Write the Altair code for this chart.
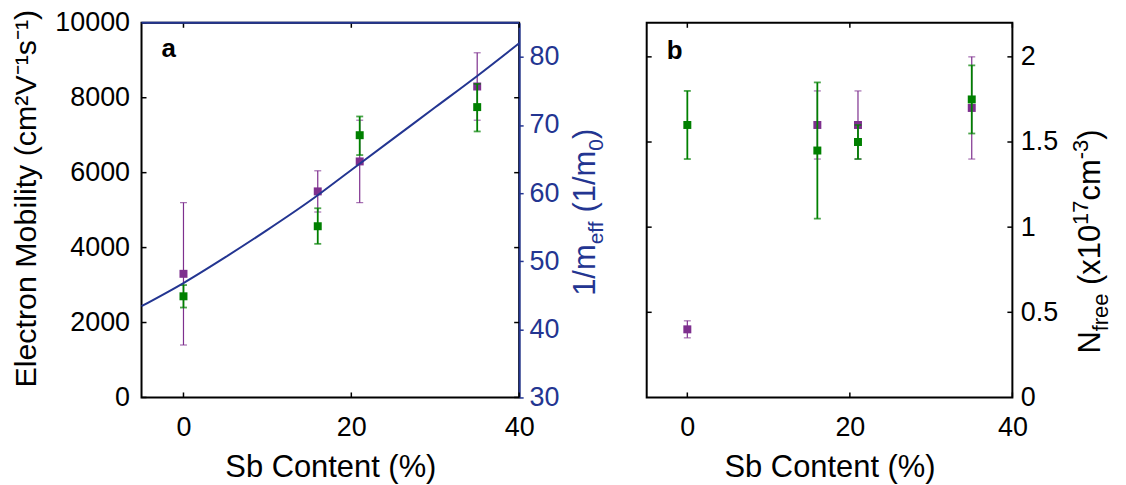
import altair as alt
import pandas as pd

FONT = "Liberation Sans"
BLUE = "#233591"
GREEN = "#008000"
PURPLE = "#7E2F8E"

# ---------------- data ----------------
sb = [0, 16, 21, 35]

mob_purple = [3300, 5500, 6300, 8300]
mob_purple_lo = [1400, 4950, 5200, 7400]
mob_purple_hi = [5200, 6050, 7400, 9200]
mob_green = [2700, 4570, 7000, 7750]
mob_green_lo = [2400, 4100, 6470, 7100]
mob_green_hi = [3000, 5050, 7500, 8370]

curve_sb = [-5, 0, 5, 10, 15, 20, 25, 30, 35, 40]
curve_inv_meff = [43.4, 46.8, 50.6, 54.6, 58.8, 63.4, 68.0, 72.6, 77.2, 82.0]

n_green = [1.6, 1.45, 1.5, 1.75]
n_green_lo = [1.4, 1.05, 1.4, 1.55]
n_green_hi = [1.8, 1.85, 1.6, 1.95]
n_purple = [0.4, 1.6, 1.6, 1.7]
n_purple_lo = [0.35, 1.4, 1.4, 1.4]
n_purple_hi = [0.45, 1.8, 1.8, 2.0]

x_ticks = [0, 20, 40]
mob_ticks = [0, 2000, 4000, 6000, 8000, 10000]
inv_ticks = [30, 40, 50, 60, 70, 80]
n_ticks = [0, 0.5, 1, 1.5, 2]

# ---------------- layout ----------------
W_A, W_B, H = 379, 367, 376
TICK_FS, TITLE_FS, SUB_FS = 27, 31, 21
TL = 5  # inward tick length

xscale = alt.Scale(domain=[-5, 40], nice=False, zero=False)
mob_scale = alt.Scale(domain=[0, 10000], nice=False, zero=False)
inv_scale = alt.Scale(domain=[30, 85], nice=False, zero=False)
n_scale = alt.Scale(domain=[0, 2.2], nice=False, zero=False)

AW = {'1': 556, '/': 278, 'm': 833, 'e': 556, 'f': 278, ' ': 278, '(': 333,
      ')': 333, '0': 556, 'N': 722, 'r': 333, 'x': 500, '7': 556, 'c': 500,
      '-': 333, '3': 556}


def tw(s, size):
    return sum(AW.get(c, 556) for c in s) / 1000 * size


def text_at(s, x, y, size, color="black", angle=0, align="left", weight="normal"):
    return alt.Chart(pd.DataFrame({"t": [s]})).mark_text(
        font=FONT, fontSize=size, color=color, angle=angle, align=align,
        baseline="alphabetic", fontWeight=weight
    ).encode(text="t:N", x=alt.value(x), y=alt.value(y))


def rotated_title(segments, bx, y0, color):
    layers = []
    y = y0
    for s, size, shift in segments:
        if s.strip():
            layers.append(text_at(s, bx + shift, y, size, color=color, angle=270))
        y -= tw(s, size)
    return layers


def make_x_axis(width):
    return alt.Axis(values=x_ticks, ticks=False, tickSize=0, domain=False, grid=False,
                    labelFlush=False, labelOverlap=False, labelFontSize=TICK_FS,
                    labelPadding=17, labelColor="black", format="d",
                    title="Sb Content (%)", titleFontSize=TITLE_FS, titleFontWeight="normal",
                    titleColor="black", titleX=width / 2, titleY=79,
                    titleAlign="center", titleBaseline="alphabetic")


def series(df, yf, lo, hi, color, yscale, sw, xaxis, yaxis):
    base = alt.Chart(df)
    X = alt.X("sb:Q", scale=xscale, axis=xaxis)
    bar = base.mark_rule(color=color, strokeWidth=sw).encode(
        x=X, y=alt.Y(f"{lo}:Q", scale=yscale, axis=yaxis), y2=f"{hi}:Q")
    c1 = base.mark_tick(color=color, orient="horizontal", size=7, thickness=sw).encode(
        x=X, y=alt.Y(f"{lo}:Q", scale=yscale, axis=yaxis))
    c2 = base.mark_tick(color=color, orient="horizontal", size=7, thickness=sw).encode(
        x=X, y=alt.Y(f"{hi}:Q", scale=yscale, axis=yaxis))
    pt = base.mark_square(color=color, size=64, opacity=1).encode(
        x=X, y=alt.Y(f"{yf}:Q", scale=yscale, axis=yaxis))
    return [bar, c1, c2, pt]


def inward_ticks(yvals, yscale, width, xaxis, yaxis):
    dx = pd.DataFrame({"v": x_ticks})
    dy = pd.DataFrame({"v": yvals})
    X = alt.X("v:Q", scale=xscale, axis=xaxis)
    Y = alt.Y("v:Q", scale=yscale, axis=yaxis)
    return [
        alt.Chart(dx).mark_rule(color="black", strokeWidth=1.5).encode(x=X, y=alt.value(H), y2=alt.value(H - TL)),
        alt.Chart(dx).mark_rule(color="black", strokeWidth=1.5).encode(x=X, y=alt.value(0), y2=alt.value(TL)),
        alt.Chart(dy).mark_rule(color="black", strokeWidth=1.5).encode(y=Y, x=alt.value(0), x2=alt.value(TL)),
        alt.Chart(dy).mark_rule(color="black", strokeWidth=1.5).encode(y=Y, x=alt.value(width - TL), x2=alt.value(width)),
    ]


one = pd.DataFrame({"d": [0]})

# ---------------- panel a ----------------
df_a = pd.DataFrame({"sb": sb, "mp": mob_purple, "mpl": mob_purple_lo, "mph": mob_purple_hi,
                     "mg": mob_green, "mgl": mob_green_lo, "mgh": mob_green_hi})

mob_axis = alt.Axis(values=mob_ticks, ticks=False, tickSize=0, domain=False, grid=False,
                    labelFlush=False, labelOverlap=False, labelFontSize=TICK_FS,
                    labelPadding=12, labelColor="black", format="d",
                    title="Electron Mobility (cm²V⁻¹s⁻¹)", titleFontSize=30.5, titleLimit=1000,
                    titleFontWeight="normal", titleColor="black", titleAngle=270,
                    titleX=-115, titleY=176, titleAlign="center", titleBaseline="middle")
xa = make_x_axis(W_A)

left_a = alt.layer(
    *inward_ticks(mob_ticks, mob_scale, W_A, xa, mob_axis),
    *series(df_a, "mp", "mpl", "mph", PURPLE, mob_scale, 1.2, xa, mob_axis),
    *series(df_a, "mg", "mgl", "mgh", GREEN, mob_scale, 1.8, xa, mob_axis),
)

df_curve = pd.DataFrame({"sb": curve_sb, "inv": curve_inv_meff})
curve = alt.Chart(df_curve).mark_line(color=BLUE, strokeWidth=2, interpolate="monotone").encode(
    x=alt.X("sb:Q", scale=xscale, axis=xa),
    y=alt.Y("inv:Q", scale=inv_scale,
            axis=alt.Axis(orient="right", values=inv_ticks, domainColor=BLUE, domainWidth=2,
                          tickColor=BLUE, tickSize=4, tickWidth=1.5, labelColor=BLUE,
                          labelFontSize=TICK_FS, labelPadding=6, labelFlush=False,
                          labelOverlap=False, grid=False, title=None)))

top_blue = alt.Chart(one).mark_rule(color=BLUE, strokeWidth=2).encode(
    x=alt.value(0), x2=alt.value(W_A), y=alt.value(0))

title_a = rotated_title(
    [("1/m", TITLE_FS, 0), ("eff", SUB_FS, 8), (" ", TITLE_FS, 0), ("(1/m", TITLE_FS, 0),
     ("0", SUB_FS, 8), (")", TITLE_FS, 0)],
    bx=W_A + 76, y0=274, color=BLUE)

panel_a = alt.layer(
    left_a, curve, top_blue,
    text_at("a", 20, 34, 26, weight="bold"),
    *title_a,
).resolve_scale(y="independent").properties(width=W_A, height=H)

# ---------------- panel b ----------------
df_b = pd.DataFrame({"sb": sb, "np": n_purple, "npl": n_purple_lo, "nph": n_purple_hi,
                     "ng": n_green, "ngl": n_green_lo, "ngh": n_green_hi})

n_axis = alt.Axis(orient="right", values=n_ticks, ticks=False, tickSize=0, domain=False, grid=False,
                  labelFlush=False, labelOverlap=False, labelFontSize=TICK_FS, labelPadding=8,
                  labelColor="black", labelExpr="'' + datum.value", title=None)
xb = make_x_axis(W_B)

title_b = rotated_title(
    [("N", TITLE_FS, 0), ("free", 22, 8), (" ", TITLE_FS, 0), ("(x10", TITLE_FS, 0),
     ("17", 22, -12), ("cm", TITLE_FS, 0), ("-3", 22, -12), (")", TITLE_FS, 0)],
    bx=W_B + 88, y0=332, color="black")

panel_b = alt.layer(
    *inward_ticks([0.5, 1, 1.5, 2], n_scale, W_B, xb, n_axis),
    *series(df_b, "np", "npl", "nph", PURPLE, n_scale, 1.2, xb, n_axis),
    *series(df_b, "ng", "ngl", "ngh", GREEN, n_scale, 1.8, xb, n_axis),
    text_at("b", 20, 36, 26, weight="bold"),
    *title_b,
).properties(width=W_B, height=H)

chart = alt.hconcat(panel_a, panel_b, spacing=37).properties(
    padding={"left": 3, "top": -1, "right": 5, "bottom": 0}
).configure_view(stroke="black", strokeWidth=2).configure_axis(
    labelFont=FONT, titleFont=FONT
).configure_text(font=FONT)

chart.save("out.html", embed_options={"renderer": "svg", "actions": False})
